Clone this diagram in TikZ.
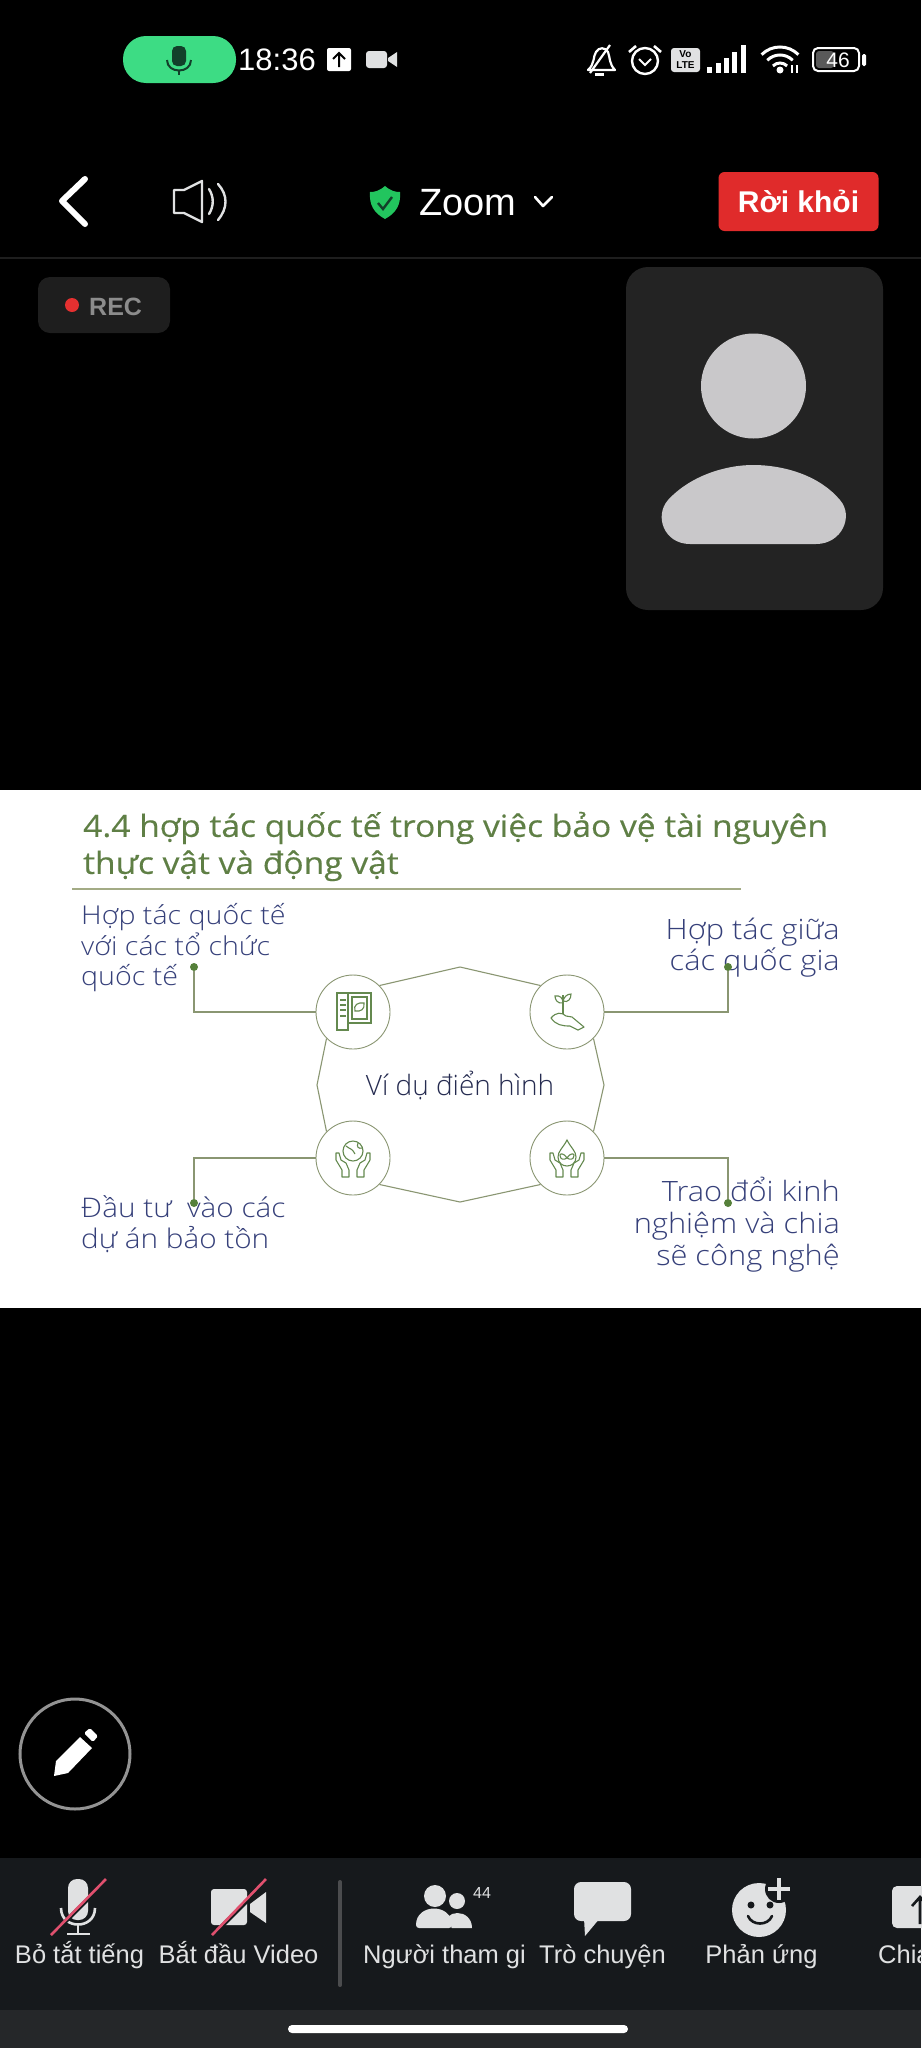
\documentclass[tikz,border=0pt]{standalone}
\usepackage{fontspec}
\setmainfont{Liberation Sans}
\newfontfamily\slidefont[UprightFont=* Light,FakeStretch=1.1]{Open Sans}
\newfontfamily\centerfont[UprightFont=* Light]{Open Sans}
\newfontfamily\titlefont[FakeStretch=1.1,FakeBold=0.35]{Open Sans}
\usetikzlibrary{positioning}
\definecolor{pillgreen}{HTML}{3DDC84}
\definecolor{micgreen}{HTML}{12402A}
\definecolor{shieldgreen}{HTML}{22C55E}
\definecolor{leavered}{HTML}{E02B2B}
\definecolor{cardgrey}{HTML}{232323}
\definecolor{recgrey}{HTML}{1E1E1E}
\definecolor{recred}{HTML}{E53030}
\definecolor{avatargrey}{HTML}{C9C8CA}
\definecolor{titlegreen}{HTML}{5F7F45}
\definecolor{rulegreen}{HTML}{A3AB85}
\definecolor{inkblue}{HTML}{36407A}
\definecolor{centerblue}{HTML}{252B50}
\definecolor{linegreen}{HTML}{8A9672}
\definecolor{icongreen}{HTML}{64894F}
\definecolor{dotgreen}{HTML}{55803A}
\definecolor{barblack}{HTML}{16191C}
\definecolor{homegrey}{HTML}{252729}
\definecolor{icongrey}{HTML}{E0E1E2}
\definecolor{slashpink}{HTML}{E0506E}
\tikzset{
  uilabel/.style={inner sep=0pt,text=white,font=\fontsize{25.5}{30}\selectfont},
  barlabel/.style={uilabel,text=icongrey,anchor=base},
  slidetext/.style={inner sep=0pt,text=inkblue,font=\slidefont\fontsize{27}{31}\selectfont},
  iconcirc/.style={circle,draw=linegreen,line width=0.9pt,minimum size=74pt,inner sep=0pt,fill=white},
  dotnode/.style={circle,fill=dotgreen,minimum size=8pt,inner sep=0pt},
  wire/.style={draw=linegreen,line width=1.1pt},
  iconline/.style={draw=icongreen,line width=1.1pt},
  hands/.pic={
    \foreach \s in {1,-1}
      \draw[iconline,line join=round,xscale=\s] (-11,19) -- (-11,12) -- (-17,2) -- (-17,-5) -- (-14,-5)
        -- (-12,2) -- (-7,5) -- (-4,12) -- (-4,19) -- cycle;
  },
}
\begin{document}
\begin{tikzpicture}[x=1pt,y=-1pt]
\useasboundingbox (0,0) rectangle (921,2048);
\fill[black] (0,0) rectangle (921,2048);

% status bar
\fill[pillgreen,rounded corners=23pt] (123,36) rectangle (236,83);
\fill[micgreen,rounded corners=5pt] (172,46) rectangle (186,66);
\draw[micgreen,line width=2pt] (167,60) .. controls (167,74) and (191,74) .. (191,60);
\draw[micgreen,line width=2pt] (179,70) -- (179,75);
\node[uilabel,font=\fontsize{31}{36}\selectfont,anchor=west] (clock) at (238,60) {18:36};
\fill[white,rounded corners=2pt] (327,48) rectangle (351,71);
\draw[black,line width=2pt] (339,67) -- (339,53) (333,59) -- (339,53) -- (345,59);
\fill[icongrey,rounded corners=3pt] (366,51) rectangle (387,68);
\fill[icongrey] (388,58) -- (397,52) -- (397,67) -- (388,61) -- cycle;
% bell, alarm, volte, signal, wifi, battery
\draw[white,line width=2.2pt,line join=round] (588,70) .. controls (595,64) and (593,56) .. (596,52) .. controls (599,47) and (605,47) .. (608,52)
  .. controls (610,57) and (609,64) .. (615,70) -- cycle;
\fill[white] (595,73) rectangle (604,76);
\draw[white,line width=2.2pt] (590,73) -- (610,45);
\draw[white,line width=2.4pt] (645,61) circle (13);
\draw[white,line width=2.6pt] (629,52) -- (636,46) (661,52) -- (654,46);
\draw[white,line width=2pt] (639,59) -- (645,65) -- (651,59);
\fill[icongrey,rounded corners=3pt] (671,48) rectangle (700,72);
\node[inner sep=0pt,text=black,align=center,font=\bfseries\fontsize{10}{11}\selectfont] (volte) at (685.5,60) {Vo\\LTE};
\foreach \x/\h in {707/6,716/10,724/15,732/21,741/28}
  \fill[white] (\x,73) rectangle (\x+5,73-\h);
\foreach \r in {10,18,26}
  \draw[white,line width=3pt] (780,73) ++(-135:\r) arc[start angle=-135,end angle=-45,radius=\r];
\fill[white] (780,70) circle (3.5);
\draw[white,line width=1.6pt] (792,73) -- (792,65) (797,65) -- (797,73);
\draw[white,line width=2pt,rounded corners=5pt] (813,48) rectangle (859,71);
\fill[gray!70!black,rounded corners=3pt] (816,51) rectangle (834,68);
\node[uilabel,font=\fontsize{21}{24}\selectfont] (battery) at (838,60) {46};
\fill[white,rounded corners=1.5pt] (862,54) rectangle (866,66);

% top bar
\draw[white,line width=6pt,line cap=round,line join=round] (85,179) -- (62,201) -- (85,224);
\draw[icongrey,line width=2.4pt,line join=round] (174,190) -- (184,190) -- (202,181) -- (202,222) -- (184,213) -- (174,213) -- cycle;
\draw[icongrey,line width=2.4pt,line cap=round] (209,189) .. controls (214,197) and (214,206) .. (209,214);
\draw[icongrey,line width=2.4pt,line cap=round] (218,184) .. controls (228,195) and (228,208) .. (218,220);
\fill[shieldgreen] (385,186) .. controls (391,191) and (395,192) .. (400,192) .. controls (401,205) and (396,213) .. (385,219)
  .. controls (374,213) and (369,205) .. (370,192) .. controls (375,192) and (379,191) .. (385,186) -- cycle;
\draw[micgreen,line width=2.4pt] (378,203) -- (383,209) -- (392,197);
\node[uilabel,font=\fontsize{38}{44}\selectfont,anchor=west] (zoomname) at (419,203) {Zoom};
\draw[white,line width=2.6pt,line cap=round,line join=round] (535,197) -- (543,206) -- (552,197);
\node[fill=leavered,rounded corners=6pt,minimum width=160pt,minimum height=59pt,inner sep=0pt,text=white,font=\bfseries\fontsize{30}{36}\selectfont] (leavebtn) at (798.5,201.5) {Rời khỏi};
\draw[recgrey,line width=1.5pt] (0,258) -- (921,258);

% rec and self view
\fill[recgrey,rounded corners=12pt] (38,277) rectangle (170,333);
\fill[recred] (72,305) circle (7);
\node[uilabel,text=gray!90,font=\bfseries\fontsize{25}{30}\selectfont,anchor=west] (rectext) at (89,307) {REC};
\fill[cardgrey,rounded corners=22pt] (626,267) rectangle (883,610);
\fill[avatargrey] (753.5,386) circle (52.5);
\fill[avatargrey] (690,544) .. controls (664,544) and (654,516) .. (668,500) .. controls (690,476) and (725,465) .. (753,465)
  .. controls (785,465) and (820,476) .. (840,500) .. controls (854,516) and (842,544) .. (816,544) -- cycle;

% slide
\fill[white] (0,790) rectangle (921,1308);
\node[inner sep=0pt,anchor=west,text=titlegreen,font=\titlefont\fontsize{30.5}{37}\selectfont,align=left] (title) at (83,846.5) {4.4 hợp tác quốc tế trong việc bảo vệ tài nguyên\\thực vật và động vật};
\draw[rulegreen,line width=1.4pt] (72,889) -- (741,889);

\node[slidetext,font=\slidefont\fontsize{26}{30.5}\selectfont,anchor=west,align=left] (tleft) at (81,948) {Hợp tác quốc tế\\với các tổ chức\\quốc tế};
\node[slidetext,font=\slidefont\fontsize{28}{31}\selectfont,anchor=east,align=right] (tright) at (840,947.5) {Hợp tác giữa\\các quốc gia};
\node[slidetext,anchor=west,align=left] (bleft) at (81,1224.5) {Đầu tư\ \ vào các\\dự án bảo tồn};
\node[slidetext,font=\slidefont\fontsize{28}{32}\selectfont,anchor=east,align=right] (bright) at (840,1224.5) {Trao đổi kinh\\nghiệm và chia\\sẽ công nghệ};

\node[iconcirc] (c1) at (353,1012) {};
\node[iconcirc] (c2) at (567,1012) {};
\node[iconcirc] (c3) at (353,1158) {};
\node[iconcirc] (c4) at (567,1158) {};
\node[dotnode] (d1) at (194,967) {};
\node[dotnode] (d2) at (728,967) {};
\node[dotnode] (d3) at (194,1203) {};
\node[dotnode] (d4) at (728,1203) {};
\coordinate (ptop) at (460,967);
\coordinate (pright) at (604,1085);
\coordinate (pbot) at (460,1202);
\coordinate (pleft) at (317,1085);

\draw[wire] (c1.north east) -- (ptop) -- (c2.north west);
\draw[wire] (c2.south east) -- (pright) -- (c4.north east);
\draw[wire] (c4.south west) -- (pbot) -- (c3.south east);
\draw[wire] (c3.north west) -- (pleft) -- (c1.south west);
\draw[wire] (c1.west) -| (d1);
\draw[wire] (c2.east) -| (d2);
\draw[wire] (c3.west) -| (d3);
\draw[wire] (c4.east) -| (d4);

\node[inner sep=0pt,text=centerblue,font=\centerfont\fontsize{28}{32}\selectfont] (center) at (460,1086) {Ví dụ điển hình};

% icons
\draw[iconline] (348,1023) -- (348,1030) -- (337,1030) -- (337,993) -- (371,993) -- (371,1023) -- (348,1023) -- (348,993);
\draw[iconline] (340,1000) -- (346,1000) (340,1005) -- (346,1005) (340,1010) -- (346,1010) (340,1016) -- (346,1016);
\draw[iconline] (352,997) rectangle (367,1019);
\draw[iconline] (355,1011) .. controls (353,1005) and (358,1002) .. (364,1003) .. controls (365,1009) and (361,1012) .. (355,1011) -- cycle;
\draw[iconline] (563,1014) -- (563,995);
\draw[iconline] (563,1003) .. controls (557,1004) and (555,999) .. (555,996) .. controls (560,995) and (563,998) .. (563,1003);
\draw[iconline] (563,1001) .. controls (564,997) and (567,994) .. (571,994) .. controls (571,999) and (568,1003) .. (563,1001);
\draw[iconline,line join=round] (551,1018) .. controls (556,1012) and (562,1012) .. (566,1016) -- (572,1017) -- (584,1027) -- (578,1030)
  -- (570,1026) .. controls (562,1026) and (556,1025) .. (551,1018) -- cycle;
\draw[iconline] (353,1151) circle (10);
\draw[iconline] (346,1146) .. controls (351,1150) and (352,1148) .. (355,1154) (358,1143) .. controls (356,1147) and (359,1149) .. (362,1148);
\pic at (353,1158) {hands};
\draw[iconline] (567,1140) .. controls (563,1148) and (558,1151) .. (558,1157) .. controls (558,1169) and (576,1169) .. (576,1157) .. controls (576,1151) and (571,1148) .. (567,1140) -- cycle;
\draw[iconline] (567,1158) .. controls (563,1152) and (560,1154) .. (560,1155) .. controls (560,1160) and (564,1160) .. (567,1158)
  .. controls (571,1152) and (574,1154) .. (574,1155) .. controls (574,1160) and (570,1160) .. (567,1158);
\pic at (567,1158) {hands};

% pencil
\draw[gray!85,line width=3pt] (75,1754) circle (55);
\fill[white] (54,1776) -- (56,1761) -- (80,1737) -- (92,1748) -- (68,1773) -- cycle;
\fill[white,rounded corners=1.5pt] (84,1733) -- (90,1728) -- (98,1736) -- (93,1742) -- cycle;

% bottom bar
\fill[barblack] (0,1858) rectangle (921,2010);
\fill[homegrey] (0,2010) rectangle (921,2048);
\fill[white,rounded corners=4pt] (288,2025) rectangle (628,2033);
\fill[icongrey,rounded corners=9pt] (68,1879) rectangle (88,1920);
\draw[icongrey,line width=2.6pt] (61,1908) .. controls (61,1930) and (95,1930) .. (95,1908);
\draw[icongrey,line width=2.6pt] (78,1925) -- (78,1934) (67,1934) -- (90,1934);
\draw[barblack,line width=4pt] (53,1934) -- (109,1878);
\draw[slashpink,line width=2.6pt] (51,1935) -- (106,1879);
\fill[icongrey,rounded corners=3pt] (211,1889) rectangle (247,1925);
\fill[icongrey] (250,1904) -- (266,1892) -- (266,1923) -- (250,1912) -- cycle;
\draw[barblack,line width=4pt] (214,1934) -- (268,1880);
\draw[slashpink,line width=2.6pt] (212,1935) -- (266,1879);
\draw[gray!50!barblack,line width=4pt,line cap=round] (340,1882) -- (340,1985);
\fill[icongrey] (435,1896) circle (11);
\fill[icongrey] (457,1901) circle (8);
\fill[icongrey] (458,1928) -- (445,1928) .. controls (442,1908) and (472,1908) .. (472,1928) -- cycle;
\fill[barblack] (452,1930) .. controls (448,1906) and (418,1906) .. (414,1930) -- cycle;
\fill[icongrey,rounded corners=3pt] (416,1928) .. controls (416,1903) and (452,1903) .. (452,1928) -- cycle;
\node[uilabel,text=icongrey,font=\fontsize{16}{18}\selectfont] (count) at (482,1893) {44};
\fill[icongrey,rounded corners=7pt] (574,1882) rectangle (631,1921);
\fill[icongrey] (584,1918) -- (585,1936) -- (600,1918) -- cycle;
\fill[icongrey] (759,1910) circle (27);
\fill[barblack] (779,1889) circle (14);
\draw[icongrey,line width=3.6pt] (768,1889) -- (790,1889) (779,1878) -- (779,1900);
\fill[barblack] (751,1905) circle (3.5) (770,1905) circle (3.5);
\draw[barblack,line width=2.6pt,line cap=round] (748,1916) .. controls (752,1926) and (768,1926) .. (772,1916);
\fill[icongrey,rounded corners=5pt] (892,1886) rectangle (940,1928);
\draw[barblack,line width=2.6pt] (920,1924) -- (920,1898) (912,1906) -- (920,1897) -- (928,1906);

\node[barlabel] (tmic) at (79.5,1963) {Bỏ tắt tiếng};
\node[barlabel] (tvideo) at (238.5,1963) {Bắt đầu Video};
\node[barlabel] (tpeople) at (444.5,1963) {Người tham gi};
\node[barlabel] (tchat) at (602.5,1963) {Trò chuyện};
\node[barlabel] (treact) at (761.5,1963) {Phản ứng};
\node[barlabel,anchor=base west] (tshare) at (878,1963) {Chia};
\end{tikzpicture}
\end{document}
